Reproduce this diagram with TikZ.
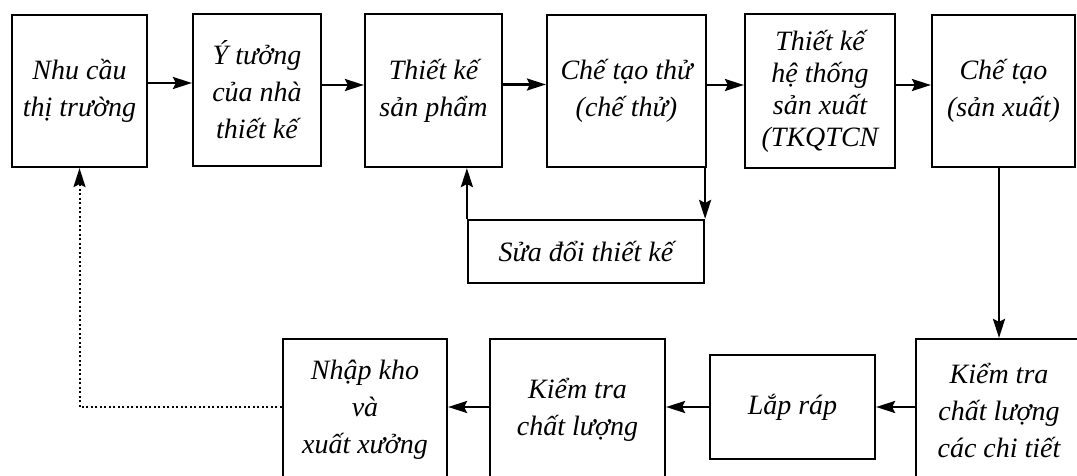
\documentclass[tikz,border=0pt]{standalone}
\usepackage{fontspec}
\setmainfont{Liberation Serif}
\usetikzlibrary{arrows.meta}
\begin{document}
\begin{tikzpicture}[x=1pt,y=-1pt,
  box/.style={draw, line width=2.2pt, inner sep=0pt, align=center,
    font=\itshape\fontsize{28}{37}\selectfont},
  tight/.style={font=\itshape\fontsize{28}{32}\selectfont},
  arr/.style={line width=2.4pt, -{Stealth[length=19pt,width=12pt,inset=3pt]}},
  dotline/.style={line width=2pt, dash pattern=on 2pt off 2.5pt,
    -{Stealth[length=19pt,width=12pt,inset=3pt]}}]
\useasboundingbox (0,0) rectangle (1077,476);
\clip (0,0) rectangle (1077,476);
% top row
\node[box, minimum width=135pt, minimum height=152pt] (b1) at (79.5,91) {Nhu cầu\\thị trường};
\node[box, minimum width=128pt, minimum height=152pt] (b2) at (257,90) {Ý tưởng\\của nhà\\thiết kế};
\node[box, minimum width=137pt, minimum height=153pt] (b3) at (433.5,90.5) {Thiết kế\\sản phẩm};
\node[box, minimum width=159pt, minimum height=152pt] (b4) at (626.5,91) {Chế tạo thử\\(chế thử)};
\node[box, tight, minimum width=150pt, minimum height=154pt] (b5) at (820,91) {Thiết kế\\hệ thống\\sản xuất\\(TKQTCN};
\node[box, minimum width=143pt, minimum height=152pt] (b6) at (1003.5,91) {Chế tạo\\(sản xuất)};
\node[box, minimum width=236pt, minimum height=63pt] (sua) at (586,251.5) {Sửa đổi thiết kế};
% bottom row
\node[box, minimum width=166pt, minimum height=142pt] (k1) at (999,410) {Kiểm tra\\chất lượng\\các chi tiết};
\node[box, minimum width=165pt, minimum height=104pt] (lr) at (792.5,407) {Lắp ráp};
\node[box, minimum width=175pt, minimum height=142pt] (k2) at (577.5,410) {Kiểm tra\\chất lượng};
\node[box, minimum width=164pt, minimum height=142pt] (nk) at (365,410) {Nhập kho\\và\\xuất xưởng};
% connectors
\draw[arr] ([yshift=8pt]b1.east) -- ([yshift=8pt]b1.east -| b2.west);
\draw[arr] ([yshift=5pt]b2.east) -- ([yshift=5pt]b2.east -| b3.west);
\draw[arr] ([yshift=6pt]b3.east) -- ([yshift=6pt]b3.east -| b4.west);
\draw[arr] ([yshift=6pt]b4.east) -- ([yshift=6pt]b4.east -| b5.west);
\draw[arr] ([yshift=6pt]b5.east) -- ([yshift=6pt]b5.east -| b6.west);
\draw[arr] (sua.north east |- b4.south) -- (sua.north east);
\draw[arr] (sua.north west) -- (sua.north west |- b3.south);
\draw[arr] (b6.south -| k1.north) -- (k1.north);
\draw[arr] (k1.west |- lr.center) -- (lr.east);
\draw[arr] (lr.west) -- (k2.east |- lr.center);
\draw[arr] (k2.west |- lr.center) -- (nk.east |- lr.center);
\coordinate (corner) at (b1.south |- lr.center);
\draw[dotline] (nk.west |- lr.center) -- (corner) -- (b1.south);
\end{tikzpicture}
\end{document}
